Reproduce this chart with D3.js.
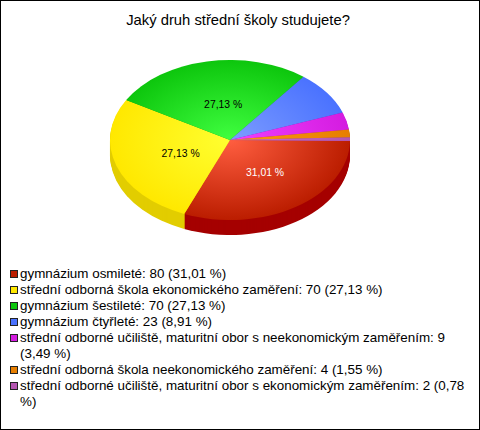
<!DOCTYPE html>
<html><head><meta charset="utf-8">
<script src="https://cdnjs.cloudflare.com/ajax/libs/d3/7.8.5/d3.min.js"></script>
<style>html,body{margin:0;padding:0;background:#fff}svg{display:block}text{font-family:"Liberation Sans",Arial,sans-serif}</style>
</head><body><div id="chart"></div>
<script>
const title = "Jaký druh střední školy studujete?";
const categories = ["gymnázium osmileté","střední odborná škola ekonomického zaměření","gymnázium šestileté","gymnázium čtyřleté","střední odborné učiliště, maturitní obor s neekonomickým zaměřením","střední odborná škola neekonomického zaměření","střední odborné učiliště, maturitní obor s ekonomickým zaměřením"];
const values = [80,70,70,23,9,4,2];
const percents = ["31,01 %","27,13 %","27,13 %","8,91 %","3,49 %","1,55 %","0,78 %"];
const edgeColors = ["#bb1d00","#ffe800","#0dc60d","#4a72ff","#d41ce0","#e67e00","#b455b0"];
const centerColors = ["#ff5e40","#ffff30","#40ff40","#7c9cff","#f040ff","#ff9a10","#d070d0"];
const sideColors = ["#a50000","#e2cd00","#0a9a0a","#3050c0","#a010b0","#b06000","#8a3f88"];
const swatchColors = ["#bb1d00","#ffe800","#0dc60d","#4a72ff","#d41ce0","#e67e00","#b455b0"];
const showLabel = [true,true,true,false,false,false,false];
const labelColors = ["#fff","#000","#000","#000","#000","#000","#000"];

const W=480,H=430,cx=230,cy=140,rx=120,ry=80,depth=15;
const svg=d3.select("#chart").append("svg").attr("width",W).attr("height",H);
svg.append("rect").attr("x",0.5).attr("y",0.5).attr("width",W-1).attr("height",H-1).attr("fill","#fff").attr("stroke","#000");
svg.append("text").attr("x",238).attr("y",25).attr("text-anchor","middle").attr("font-size",14.8).text(title);

const defs=svg.append("defs");
edgeColors.forEach((c,i)=>{
  const g=defs.append("radialGradient").attr("id","g"+i).attr("gradientUnits","userSpaceOnUse").attr("cx",0).attr("cy",0).attr("r",rx);
  g.append("stop").attr("offset",0).attr("stop-color",centerColors[i]);
  g.append("stop").attr("offset",1).attr("stop-color",c);
});
const start=Math.PI/2+0.8*Math.PI/180;
const pie=d3.pie().value(d=>d).sort(null).startAngle(start).endAngle(start+2*Math.PI);
const arcs=pie(values);
const arc=d3.arc().innerRadius(0).outerRadius(rx);
const sy=ry/rx;
const order=d3.range(values.length);
d3.range(depth,0,-1).forEach(dy=>{
  svg.append("g").attr("transform",`translate(${cx},${cy+dy}) scale(1,${sy})`)
    .selectAll("path").data(order).join("path").attr("d",i=>arc(arcs[i])).attr("fill",i=>sideColors[i]);
});
const face=svg.append("g").attr("transform",`translate(${cx},${cy}) scale(1,${sy})`);
face.selectAll("path").data(order).join("path").attr("d",i=>arc(arcs[i])).attr("fill",i=>`url(#g${i})`);

const labelArc=d3.arc().innerRadius(rx*0.47).outerRadius(rx*0.47);
svg.append("g").selectAll("text").data(order.filter(i=>showLabel[i])).join("text")
  .attr("x",i=>cx+4+labelArc.centroid(arcs[i])[0])
  .attr("y",i=>cy+5+labelArc.centroid(arcs[i])[1]*sy)
  .attr("text-anchor","middle").attr("font-size",10.4).attr("fill",i=>labelColors[i]).text(i=>percents[i]);

const legend=svg.append("g");
let y=278;
const maxX=470,tx=20,lh=16;
categories.forEach((c,i)=>{
  legend.append("rect").attr("x",10.5).attr("y",y-7.5).attr("width",7).attr("height",7).attr("fill",swatchColors[i]).attr("stroke","#222");
  const words=`${c}: ${values[i]} (${percents[i]})`.split(" ");
  let line="";
  const t=legend.append("text").attr("font-size",13.4).attr("x",tx).attr("y",y);
  const lines=[];
  words.forEach(w=>{
    const test=line?line+" "+w:w;
    t.text(test);
    if(tx+t.node().getComputedTextLength()>maxX&&line){lines.push(line);line=w;}else line=test;
  });
  lines.push(line);
  t.text(null);
  lines.forEach((l,k)=>t.append("tspan").attr("x",tx).attr("y",y+k*lh).text(l));
  y+=lines.length*lh;
});
</script></body></html>
